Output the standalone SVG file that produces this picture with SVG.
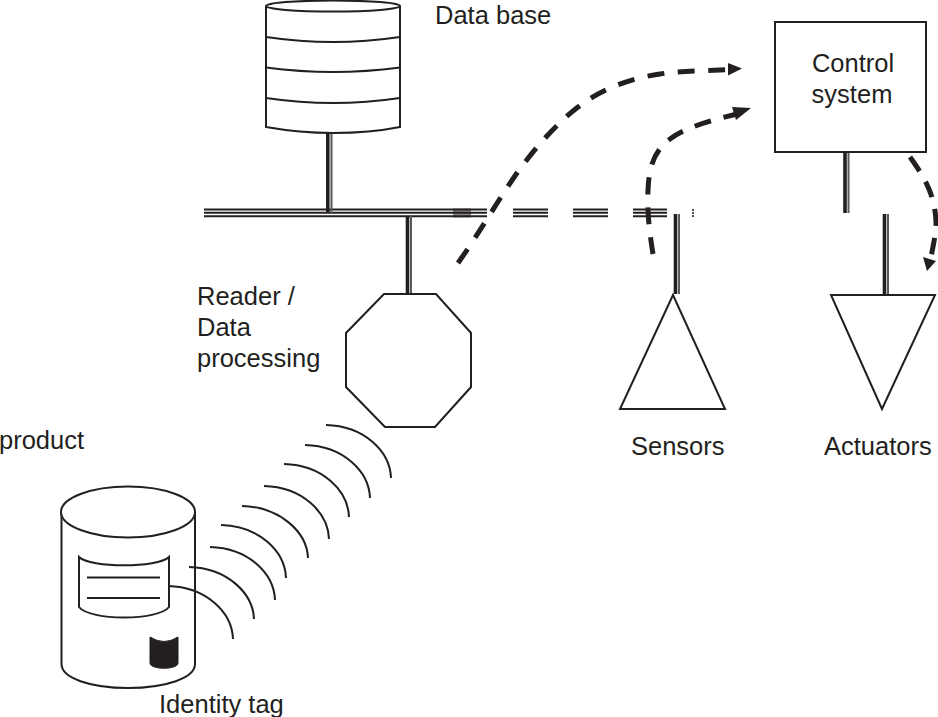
<svg xmlns="http://www.w3.org/2000/svg" width="938" height="717" viewBox="0 0 938 717">
<style>
.s{fill:#fff;stroke:#231f20;stroke-width:2;stroke-linejoin:miter}
.l{fill:none;stroke:#231f20;stroke-width:2;stroke-linecap:butt}
.t{font-family:"Liberation Sans",Arial,sans-serif;font-size:25.5px;fill:#231f20}
.d{fill:none;stroke:#231f20;stroke-width:5;stroke-linecap:butt}
.a{fill:#231f20}
.h1{stroke:#231f20;stroke-width:3.6;fill:none}
.h2{stroke:#58595b;stroke-width:2;fill:none}
.b{stroke:#231f20;stroke-width:1.900;fill:none}
</style>
<rect width="938" height="717" fill="#fff"/>
<g id="connectors">
<g id="bus">
<path class="b" d="M204 209.500H487M204 212.800H487M204 216.200H487"/>
<path class="b" d="M513 209.500H548M513 212.800H548M513 216.200H548M573 209.500H608M573 212.800H608M573 216.200H608M633 209.500H667M633 212.800H667M633 216.200H667"/>
<rect x="453" y="208.500" width="18" height="9" fill="#231f20" opacity=".55"/>
<path d="M693 209v2M693 212v2M693 215v2" stroke="#231f20" stroke-width="1.600" fill="none"/>
</g>
<path class="h1" d="M327.800 133V213"/><path class="h2" d="M331.500 133V213"/>
<path class="h1" d="M407.500 216V293"/><path class="h2" stroke-width="1.200" d="M411 216V293"/>
<path class="h1" d="M675.500 214V294"/><path class="h2" d="M679 214V294"/>
<path class="h1" d="M845 153V213"/><path class="h2" d="M848.500 153V213"/>
<path class="h1" d="M884.500 214V295"/><path class="h2" d="M888 214V295"/>
<g id="flows">
<path class="d" stroke-dasharray="17 13.500" d="M458 263C480 232 500 197 517 173C535 148 555 125 578 107C600 90 630 78 660 74C680 71 700 71 728 69.500"/>
<path class="a" d="M728 63L742 68.500L728 75.500Z"/>
<path class="d" stroke-dasharray="17 13" d="M653 254C650 235 647 215 648 190C649 165 655 150 670 139C685 128 705 122 735 114.500"/>
<path class="a" d="M732 107L751 108L736 120Z"/>
<path class="d" stroke-dasharray="17 12" d="M910 157C925 178 935 195 936 222C936 235 933 245 931 258"/>
<path class="a" d="M923 257L936 261L927 271Z"/>
</g>
</g>
<g id="database">
<path class="s" d="M266 6V127Q300 133 333 133Q370 133 400 127V6"/>
<ellipse class="s" cx="333" cy="6" rx="67" ry="5.500"/>
<path class="l" d="M266 37Q300 42 333 42T400 37M266 67.500Q300 72 333 72T400 67.500M266 98Q300 103 333 103T400 98"/>
<text class="t" x="435" y="24">Data base</text>
</g>
<g id="control-system">
<rect class="s" x="775" y="22" width="151" height="130"/>
<text class="t" x="853" y="72" text-anchor="middle">Control</text>
<text class="t" x="852" y="103" text-anchor="middle">system</text>
</g>
<g id="reader">
<path class="s" d="M384 294H436L471 333V387L435 427H385L346 387V333Z"/>
<text class="t" x="197" y="305">Reader /</text>
<text class="t" x="197" y="336">Data</text>
<text class="t" x="197" y="367">processing</text>
</g>
<g id="sensors">
<path class="s" d="M673 295L725 409H620Z"/>
<text class="t" x="631" y="455">Sensors</text>
</g>
<g id="actuators">
<path class="s" d="M831 295H935L882 409Z"/>
<text class="t" x="824" y="455">Actuators</text>
</g>
<g id="product">
<text class="t" x="-1" y="449">product</text>
<path class="s" d="M61.500 512V664C61.500 678 90 688 128 688S195 678 195 664V512"/>
<ellipse class="s" cx="128" cy="512" rx="67" ry="25.500"/>
<path class="s" d="M79 557C90 568 158 568 169 557V607C158 621 90 621 79 607Z"/>
<path class="l" d="M87 577.500H160M87 598H160"/>
<path class="a" d="M150 637Q164 646 178 637V663C178 670 150 670 150 663Z" stroke="#231f20"/>
<g class="l">
<path d="M168 586c38 1 64 26 65 53"/>
<path d="M189 567c38 1 64 26 65 52"/>
<path d="M210 547c38 1 64 26 65 53"/>
<path d="M221 525c38 1 64 26 65 53"/>
<path d="M242 506c38 1 65 26 66 52"/>
<path d="M264 486c38 1 64 26 65 53"/>
<path d="M284 464c38 1 64 26 65 53"/>
<path d="M305 445c38 1 64 26 65 53"/>
<path d="M326 425c38 1 64 26 65 53"/>
</g>
<text class="t" x="159" y="713">Identity tag</text>
</g>
</svg>
